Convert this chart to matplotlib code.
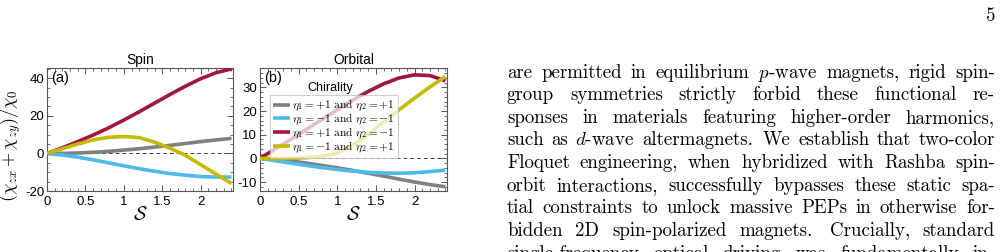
import matplotlib

matplotlib.use("Agg")
import matplotlib.pyplot as plt
from matplotlib.ticker import MultipleLocator

plt.rcParams["font.family"] = ["Liberation Sans", "DejaVu Sans"]
plt.rcParams["mathtext.fontset"] = "cm"
plt.rcParams["axes.unicode_minus"] = False

# chirality combinations
S = [0.0, 0.2, 0.4, 0.6, 0.8, 1.0, 1.2, 1.4, 1.6, 1.8, 2.0, 2.2, 2.4]

spin_pp = [0.0, 0.05, 0.25, 0.6, 1.1, 1.8, 2.5, 3.4, 4.3, 5.3, 6.3, 7.2, 8.0]
spin_mm = [0.0, -0.8, -2.0, -3.4, -5.0, -6.6, -8.1, -9.5, -10.7, -11.6, -12.3, -12.6, -12.6]
spin_pm = [0.0, 3.0, 6.3, 9.8, 13.6, 17.8, 22.2, 26.8, 31.4, 35.8, 39.8, 43.0, 45.0]
spin_mp = [0.0, 2.5, 5.0, 7.2, 8.6, 9.0, 8.4, 6.0, 2.8, -1.0, -6.0, -11.0, -16.0]

orb_pp = [0.0, -0.4, -1.1, -2.0, -3.0, -4.0, -5.1, -6.3, -7.5, -8.8, -10.0, -11.1, -12.0]
orb_mm = [0.0, -1.0, -2.0, -3.0, -3.9, -4.7, -5.4, -5.9, -6.2, -6.3, -6.1, -5.6, -5.0]
orb_pm = [0.0, 4.0, 8.0, 12.2, 16.4, 20.6, 24.6, 28.3, 31.5, 34.0, 35.3, 35.0, 32.8]
orb_mp = [0.0, -0.1, 0.0, 0.3, 0.9, 2.2, 5.5, 10.0, 15.3, 20.5, 25.5, 30.2, 34.6]

labels = [
    r"$\eta_1 = +1\ \mathrm{and}\ \eta_2 = +1$",
    r"$\eta_1 = -1\ \mathrm{and}\ \eta_2 = -1$",
    r"$\eta_1 = +1\ \mathrm{and}\ \eta_2 = -1$",
    r"$\eta_1 = -1\ \mathrm{and}\ \eta_2 = +1$",
]
colors = ["#808080", "#4dbbea", "#a2183c", "#c4ba00"]

paragraph = [
    "are permitted in equilibrium $p$-wave magnets, rigid spin-",
    "group symmetries strictly forbid these functional re-",
    "sponses in materials featuring higher-order harmonics,",
    "such as $d$-wave altermagnets. We establish that two-color",
    "Floquet engineering, when hybridized with Rashba spin-",
    "orbit interactions, successfully bypasses these static spa-",
    "tial constraints to unlock massive PEPs in otherwise for-",
    "bidden 2D spin-polarized magnets. Crucially, standard",
    "single-frequency optical driving was fundamentally in-",
]

W, H = 1004, 252
TEXT_SIZE = 13.6


def style_axes(ax, ymajor, yminor):
    ax.set_xlim(0, 2.42)
    ax.xaxis.set_major_locator(MultipleLocator(0.5))
    ax.xaxis.set_minor_locator(MultipleLocator(0.1))
    ax.yaxis.set_major_locator(MultipleLocator(ymajor))
    ax.yaxis.set_minor_locator(MultipleLocator(yminor))
    ax.xaxis.set_major_formatter(matplotlib.ticker.FuncFormatter(lambda v, p: f"{v:g}"))
    ax.tick_params(which="both", direction="in", top=True, right=True, labelsize=9.5,
                   color="#555555")
    ax.tick_params(axis="x", pad=3.5)
    ax.tick_params(axis="y", pad=2)
    ax.tick_params(which="major", length=4, width=0.7)
    ax.tick_params(which="minor", length=2, width=0.6)
    for sp in ax.spines.values():
        sp.set_color("#555555")
        sp.set_linewidth(0.8)
    ax.axhline(0, color="#444444", lw=0.7, dashes=(4, 3), zorder=1)
    ax.set_xlabel(r"$\mathcal{S}$", fontsize=14, labelpad=-1)


def justify(fig, text, y_px, x0_px, x1_px, size, renderer):
    words = text.split(" ")
    objs = [fig.text(0, 1 - y_px / H, w, fontsize=size, family="cmr10", va="baseline")
            for w in words]
    widths = [t.get_window_extent(renderer).width for t in objs]
    weights = [1.35 if w.endswith(".") else 1.0 for w in words[:-1]]
    gap = (x1_px - x0_px - sum(widths)) / sum(weights)
    x = x0_px
    for t, w, k in zip(objs, widths, weights + [0]):
        t.set_x(x / W)
        x += w + gap * k


fig = plt.figure(figsize=(W / 100, H / 100), dpi=100)
ax_a = fig.add_axes([47 / W, 1 - 191 / H, 186 / W, 123 / H])
ax_b = fig.add_axes([260 / W, 1 - 191 / H, 187 / W, 123 / H])

for ys, c in zip([spin_pp, spin_mm, spin_pm, spin_mp], colors):
    ax_a.plot(S, ys, color=c, lw=2.6, solid_capstyle="butt", zorder=3)
for ys, c, lab in zip([orb_pp, orb_mm, orb_pm, orb_mp], colors, labels):
    ax_b.plot(S, ys, color=c, lw=2.6, solid_capstyle="butt", zorder=3, label=lab)

style_axes(ax_a, 20, 5)
ax_a.set_ylim(-20, 45.5)
style_axes(ax_b, 10, 2)
ax_b.set_ylim(-13.8, 38.2)

ax_a.set_ylabel(r"$(\chi_{zx}+\chi_{zy})/\chi_0$", fontsize=13)
ax_a.yaxis.set_label_coords(-0.13, 0.37)
ax_a.set_title("Spin", fontsize=10, pad=3)
ax_b.set_title("Orbital", fontsize=10, pad=3)
ax_a.text(0.02, 0.975, "(a)", transform=ax_a.transAxes, fontsize=10.5, va="top")
ax_b.text(0.02, 0.975, "(b)", transform=ax_b.transAxes, fontsize=10.5, va="top")

ax_b.text(0.375, 0.84, "Chirality", transform=ax_b.transAxes, fontsize=9,
          ha="center", va="center")
leg = ax_b.legend(loc="upper left", bbox_to_anchor=(0.055, 0.78), borderaxespad=0,
                  fontsize=8.3, handlelength=1.5, handletextpad=0.15, labelspacing=-0.12,
                  borderpad=0.25, fancybox=False, framealpha=0.72, edgecolor="#bbbbbb")
leg.get_frame().set_linewidth(0.8)
leg.set_zorder(4)

renderer = fig.canvas.get_renderer()
for i, line in enumerate(paragraph):
    justify(fig, line, 77.5 + 22.65 * i, 507, 995, TEXT_SIZE, renderer)

fig.text(986 / W, 1 - 21 / H, "5", fontsize=TEXT_SIZE, family="cmr10", va="baseline")

fig.savefig("out.png", dpi=100)
